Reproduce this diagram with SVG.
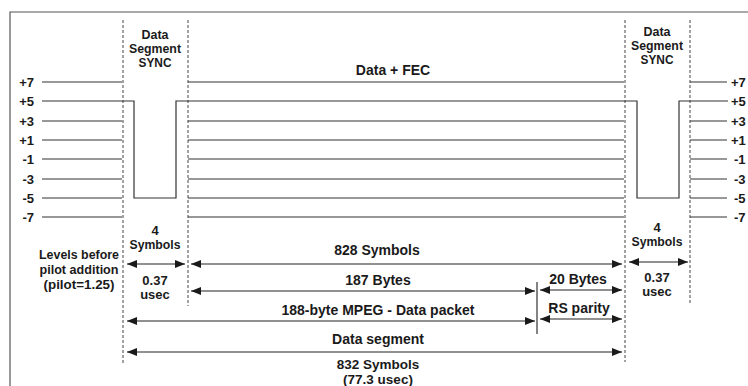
<svg xmlns="http://www.w3.org/2000/svg" width="748" height="386" viewBox="0 0 748 386">
<style>
text{font-family:"Liberation Sans",Arial,sans-serif;font-weight:bold;fill:#1a1a1a}
.t{font-size:14px;text-anchor:middle}
.b{font-size:13.5px;text-anchor:middle}
.s{font-size:13px;text-anchor:middle}
.l{font-size:13px;text-anchor:end}
.r{font-size:13px;text-anchor:start}
.lv{stroke:#333;stroke-width:1.2;fill:none}
.dash{stroke:#444;stroke-width:1;stroke-dasharray:3,2;fill:none}
.arr{stroke:#222;stroke-width:1.2;fill:none;marker-start:url(#ah);marker-end:url(#ah)}
</style>
<defs>
<marker id="ah" viewBox="0 0 10 8" refX="10" refY="4" markerWidth="10" markerHeight="8" markerUnits="userSpaceOnUse" orient="auto-start-reverse">
<path d="M0,0 L10,4 L0,8 z" fill="#1a1a1a"/>
</marker>
</defs>
<rect width="748" height="386" fill="#fff"/>
<g id="frame"><path d="M10,392 V12 H748" stroke="#555" stroke-width="1.2" fill="none"/></g>

<g id="guides">
<line class="dash" x1="123" y1="20" x2="123" y2="364"/>
<line class="dash" x1="188" y1="20" x2="188" y2="306"/>
<line class="dash" x1="625" y1="20" x2="625" y2="362"/>
<line class="dash" x1="690" y1="20" x2="690" y2="304"/>
</g>

<g id="levels-left">
<text class="l" x="34" y="87">+7</text>
<text class="l" x="34" y="106">+5</text>
<text class="l" x="34" y="126">+3</text>
<text class="l" x="34" y="145">+1</text>
<text class="l" x="34" y="164">-1</text>
<text class="l" x="34" y="184">-3</text>
<text class="l" x="34" y="203">-5</text>
<text class="l" x="34" y="222">-7</text>
<path class="lv" d="M42,82H122 M42,121H122 M42,140H122 M42,159H122 M42,179H122 M42,198H122 M42,217H122"/>
</g>

<g id="data-lines">
<path class="lv" d="M188,82H624 M188,121H624 M188,140H624 M188,159H624 M188,179H624 M188,198H624 M188,217H624"/>
<path class="lv" d="M42,101H134V198H176V101H637V198H679V101H728"/>
</g>

<g id="levels-right">
<path class="lv" d="M690,82H727 M690,121H727 M690,140H727 M690,159H727 M690,179H727 M690,198H727 M690,217H727"/>
<text class="r" x="731" y="87">+7</text>
<text class="r" x="731" y="106">+5</text>
<text class="r" x="731" y="126">+3</text>
<text class="r" x="731" y="145">+1</text>
<text class="r" x="734" y="164">-1</text>
<text class="r" x="734" y="184">-3</text>
<text class="r" x="734" y="203">-5</text>
<text class="r" x="734" y="222">-7</text>
</g>

<g id="sync-left">
<text class="s" x="155" y="39" textLength="27" lengthAdjust="spacingAndGlyphs">Data</text>
<text class="s" x="155" y="53" textLength="52" lengthAdjust="spacingAndGlyphs">Segment</text>
<text class="s" x="155" y="67" textLength="33" lengthAdjust="spacingAndGlyphs">SYNC</text>
</g>
<g id="sync-right">
<text class="s" x="657" y="36" textLength="27" lengthAdjust="spacingAndGlyphs">Data</text>
<text class="s" x="657" y="50" textLength="52" lengthAdjust="spacingAndGlyphs">Segment</text>
<text class="s" x="657" y="64" textLength="33" lengthAdjust="spacingAndGlyphs">SYNC</text>
</g>
<g id="data-fec"><text class="t" x="393" y="75">Data + FEC</text></g>

<g id="levels-note">
<text class="s" x="79" y="259" textLength="80" lengthAdjust="spacingAndGlyphs">Levels before</text>
<text class="s" x="79" y="274" textLength="79" lengthAdjust="spacingAndGlyphs">pilot addition</text>
<text class="s" x="79" y="289" textLength="71" lengthAdjust="spacingAndGlyphs">(pilot=1.25)</text>
</g>

<g id="sync-left-dims">
<text class="s" x="155" y="235">4</text>
<text class="s" x="155" y="249" textLength="51" lengthAdjust="spacingAndGlyphs">Symbols</text>
<text class="s" x="155" y="285">0.37</text>
<text class="s" x="155" y="299">usec</text>
</g>
<g id="sync-right-dims">
<text class="s" x="657" y="232">4</text>
<text class="s" x="657" y="246" textLength="51" lengthAdjust="spacingAndGlyphs">Symbols</text>
<text class="s" x="657" y="282">0.37</text>
<text class="s" x="657" y="296">usec</text>
</g>

<g id="labels">
<text class="t" x="377" y="255">828 Symbols</text>
<text class="t" x="378" y="285">187 Bytes</text>
<text class="t" x="578" y="284">20 Bytes</text>
<text class="t" x="378" y="315">188-byte MPEG - Data packet</text>
<text class="t" x="579" y="313">RS parity</text>
<text class="t" x="378" y="344">Data segment</text>
<text class="b" x="378" y="369">832 Symbols</text>
<text class="b" x="378" y="384">(77.3 usec)</text>
</g>

<g id="connectors">
<line class="arr" x1="127" y1="264" x2="185" y2="264"/>
<line class="arr" x1="191" y1="264" x2="622" y2="264"/>
<line class="arr" x1="629" y1="262" x2="688" y2="262"/>
<line class="arr" x1="191" y1="291" x2="535" y2="291"/>
<line class="arr" x1="540" y1="290" x2="622" y2="290"/>
<line class="arr" x1="127" y1="321" x2="535" y2="321"/>
<line class="arr" x1="540" y1="319" x2="622" y2="319"/>
<line class="arr" x1="127" y1="352" x2="622" y2="352"/>
<line stroke="#333" stroke-width="1.2" x1="537" y1="282" x2="537" y2="334"/>
</g>
</svg>
